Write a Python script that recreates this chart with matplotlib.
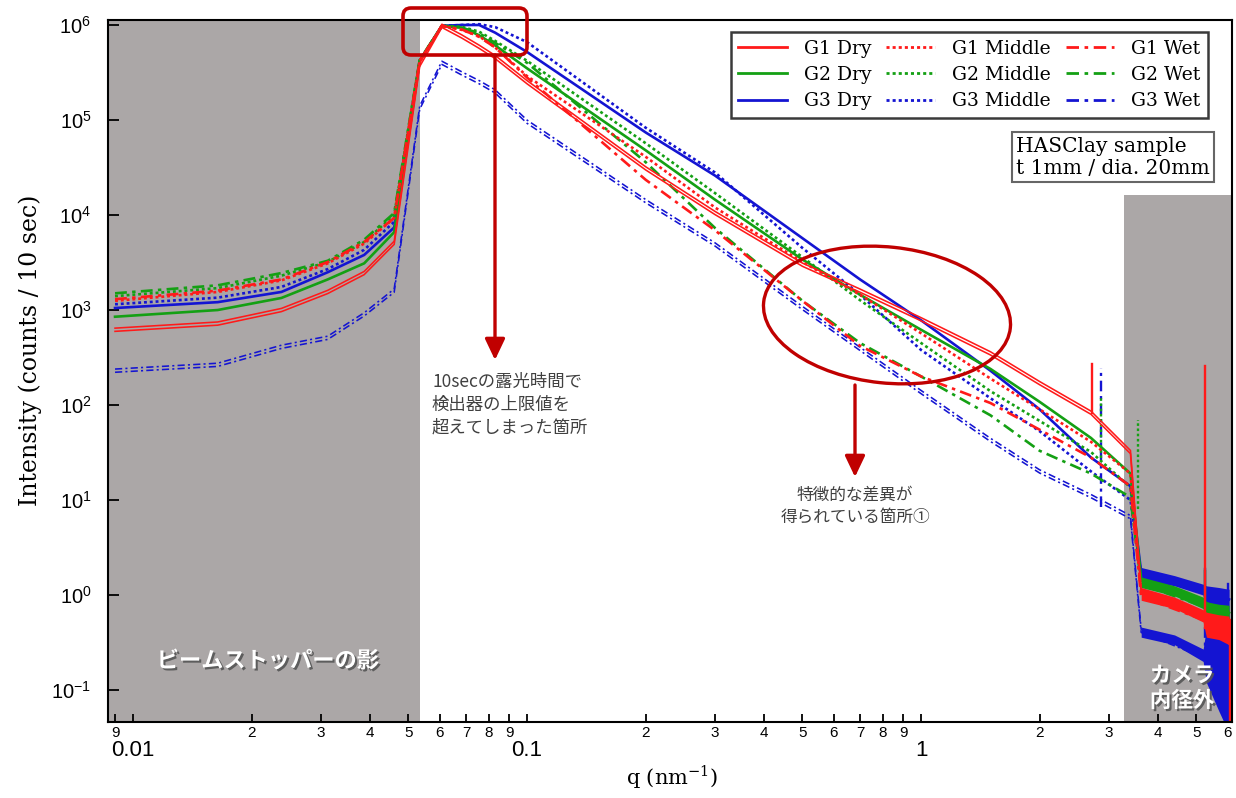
import numpy as np
import matplotlib
matplotlib.use("Agg")
import matplotlib.pyplot as plt
from matplotlib import ticker, patches, transforms
from matplotlib.lines import Line2D
import matplotlib.patheffects as pe

# ---------------- data ----------------
q = [0.0090, 0.0164, 0.0238, 0.0312, 0.0386, 0.0460, 0.0534, 0.0608, 0.0682,
     0.0756, 0.0830, 0.100, 0.200, 0.300, 0.500, 0.700, 1.00, 1.50, 2.00, 2.70, 3.40]

g1_dry = [620, 720, 1000, 1550, 2450, 5100, 3.8e5, 9.8e5, 7.6e5, 5.9e5, 4.6e5, 2.5e5,
          3.1e4, 1.05e4, 3.0e3, 1.6e3, 800, 350, 170, 83, 32]
g2_dry = [850, 1000, 1340, 2100, 3100, 6600, 4.2e5, 9.8e5, 9.4e5, 7.8e5, 6.1e5, 3.5e5,
          4.8e4, 1.45e4, 3.4e3, 1.45e3, 620, 240, 108, 45, 19]
g3_dry = [1050, 1210, 1550, 2500, 3800, 7400, 4.2e5, 9.8e5, 1.0e6, 1.0e6, 8.3e5, 5.2e5,
          7.4e4, 2.6e4, 5.7e3, 2.1e3, 780, 230, 90, 28, 14]
g1_mid = [1250, 1550, 2050, 3100, 5000, 9300, 4.2e5, 9.8e5, 8.9e5, 7.6e5, 5.8e5, 2.9e5,
          4.1e4, 1.2e4, 3.2e3, 1.45e3, 570, 190, 90, 41, 19]
g2_mid = [1400, 1700, 2300, 3200, 5200, 1.0e4, 4.3e5, 9.8e5, 9.6e5, 8.5e5, 6.8e5, 4.2e5,
          5.7e4, 1.7e4, 3.6e3, 1.27e3, 450, 140, 68, 32, 13.6]
g3_mid = [1150, 1350, 1750, 2700, 4300, 8500, 4.2e5, 9.8e5, 1.0e6, 1.02e6, 9.5e5, 6.6e5,
          8.3e4, 2.8e4, 4.5e3, 1.45e3, 380, 118, 53, 20, 10]
g1_wet = [1300, 1600, 2100, 3200, 5200, 9300, 4.2e5, 9.8e5, 9.0e5, 7.5e5, 5.8e5, 2.8e5,
          2.35e4, 6.9e3, 1.25e3, 420, 200, 105, 55, 28, 14]
g2_wet = [1500, 1820, 2450, 3300, 5500, 1.05e4, 4.3e5, 9.8e5, 9.4e5, 8.2e5, 6.5e5, 4.0e5,
          3.6e4, 7.3e3, 1.25e3, 450, 200, 78, 33, 19, 10.7]
g3_wet = [230, 265, 410, 510, 900, 1600, 1.35e5, 4.0e5, 3.1e5, 2.5e5, 2.0e5, 9.6e4,
          1.4e4, 4.9e3, 1.05e3, 390, 137, 43, 20, 11, 6.6]

# beyond the camera edge (q > 3.6)
q_tail = [3.62, 5.2, 6.05]
g1_dry_t = [1.1, 0.62, 0.5]
g1_mid_t = [1.02, 0.58, 0.46]
g1_wet_t = [0.96, 0.55, 0.42]
g2_dry_t = [1.45, 0.85, 0.65]
g2_mid_t = [1.38, 0.80, 0.60]
g2_wet_t = [1.30, 0.76, 0.56]
g3_dry_t = [1.75, 1.15, 0.90]
g3_mid_t = [1.65, 1.10, 0.85]
g3_wet_t = [0.42, 0.23, 0.08]

# noise envelopes in the tail
band_q = [3.62, 4.4, 5.2, 5.3, 5.7, 6.05]
red_lo = [0.88, 0.72, 0.52, 0.36, 0.34, 0.30]
red_hi = [1.20, 0.95, 0.70, 0.66, 0.62, 0.60]
green_lo = [1.20, 0.98, 0.72, 0.50, 0.48, 0.45]
green_hi = [1.55, 1.25, 0.95, 0.85, 0.80, 0.78]
blue_lo = [1.45, 1.25, 1.00, 0.60, 0.58, 0.55]
blue_hi = [1.95, 1.60, 1.30, 1.25, 1.20, 1.15]
bwet_lo = [0.36, 0.30, 0.20, 0.12, 0.06, 0.035]
bwet_hi = [0.46, 0.38, 0.27, 0.45, 0.38, 0.30]

# single-point spikes
spike_series = ["G1 Dry", "G3 Wet", "G2 Middle", "G2 Middle", "G1 Dry", "G2 Dry",
                "G3 Dry", "G3 Wet", "G3 Dry", "G1 Dry"]
spike_q = [2.72, 2.86, 2.86, 3.55, 5.25, 5.25, 5.25, 5.27, 6.02, 6.08]
spike_lo = [83, 8.4, 28, 8, 0.45, 0.7, 0.9, 0.2, 0.6, 0.03]
spike_hi = [270, 245, 118, 70, 260, 1.8, 1.9, 0.5, 1.3, 0.55]

names = ["G1 Dry", "G2 Dry", "G3 Dry", "G1 Middle", "G2 Middle", "G3 Middle",
         "G1 Wet", "G2 Wet", "G3 Wet"]
main_vals = [g1_dry, g2_dry, g3_dry, g1_mid, g2_mid, g3_mid, g1_wet, g2_wet, g3_wet]
tail_vals = [g1_dry_t, g2_dry_t, g3_dry_t, g1_mid_t, g2_mid_t, g3_mid_t,
             g1_wet_t, g2_wet_t, g3_wet_t]

x_major = [0.01, 0.1, 1]
x_minor = [0.009, 0.02, 0.03, 0.04, 0.05, 0.06, 0.07, 0.08, 0.09,
           0.2, 0.3, 0.4, 0.5, 0.6, 0.7, 0.8, 0.9, 2, 3, 4, 5, 6]
y_major = [0.1, 1, 10, 100, 1e3, 1e4, 1e5, 1e6]

# ---------------- styles ----------------
RED, GREEN, BLUE = "#ff1a1a", "#14a014", "#1414d2"
DARKRED = "#c00000"
GREY = "#aba7a7"
col = {"G1": RED, "G2": GREEN, "G3": BLUE}
ls = {"Dry": "-", "Middle": (0, (1.1, 1.1)), "Wet": (0, (4.5, 2.0, 1.3, 2.0))}
zo = {"G1": 6, "G2": 5, "G3": 4}
double = {"G1 Dry", "G3 Wet"}

W, H = 1236, 798
fig = plt.figure(figsize=(W / 100, H / 100), dpi=100)
fig.patch.set_facecolor("white")
ax = fig.add_axes([108 / W, 1 - 722 / H, (1232 - 108) / W, (722 - 20) / H])
ax.set_xscale("log")
ax.set_yscale("log")
ax.set_xlim(0.008638, 6.155)
ax.set_ylim(0.0461, 1.129e6)

# grey regions
ax.axvspan(0.008638, 0.05352, color=GREY, zorder=0, lw=0)
ax.add_patch(patches.Rectangle((3.27, 0.0461), 10, 1.63e4 - 0.0461, color=GREY,
                               zorder=0, lw=0))

# noise bands
ax.fill_between(band_q, blue_lo, blue_hi, color=BLUE, lw=0, zorder=4)
ax.fill_between(band_q, bwet_lo, bwet_hi, color=BLUE, lw=0, zorder=4)
ax.fill_between(band_q, green_lo, green_hi, color=GREEN, lw=0, zorder=5)
ax.fill_between(band_q, red_lo, red_hi, color=RED, lw=0, zorder=6)

off_up = transforms.offset_copy(ax.transData, fig=fig, x=0, y=1.6, units="dots")
off_dn = transforms.offset_copy(ax.transData, fig=fig, x=0, y=-1.6, units="dots")

for name, mv, tv in zip(names, main_vals, tail_vals):
    g, cond = name.split()
    xs = q + q_tail
    ys = mv + tv
    kw = dict(color=col[g], linestyle=ls[cond], zorder=zo[g], solid_joinstyle="round")
    if name in double:
        ax.plot(xs, ys, lw=1.15, transform=off_up, **kw)
        ax.plot(xs, ys, lw=1.15, transform=off_dn, **kw)
    else:
        ax.plot(xs, ys, lw=1.9, **kw)

for s, sq, lo, hi in zip(spike_series, spike_q, spike_lo, spike_hi):
    g, cond = s.split()
    ax.plot([sq, sq], [lo, hi], color=col[g], linestyle=ls[cond], lw=1.7, zorder=zo[g])

# ---------------- axes styling ----------------
for sp in ax.spines.values():
    sp.set_linewidth(1.5)
    sp.set_zorder(10)

ax.xaxis.set_major_locator(ticker.FixedLocator(x_major))
ax.xaxis.set_minor_locator(ticker.FixedLocator(x_minor))
ax.xaxis.set_major_formatter(ticker.FuncFormatter(lambda v, p: f"{v:g}"))


def minor_fmt(v, p):
    d = v / 10 ** np.floor(np.log10(v) + 1e-9)
    return f"{int(round(d))}"


ax.xaxis.set_minor_formatter(ticker.FuncFormatter(minor_fmt))
ax.yaxis.set_major_locator(ticker.FixedLocator(y_major))
ax.yaxis.set_minor_locator(ticker.NullLocator())
ax.yaxis.set_major_formatter(ticker.FuncFormatter(
    lambda v, p: r"$\mathregular{10^{%d}}$" % int(round(np.log10(v)))))

SANS = "Liberation Sans"
ax.tick_params(axis="x", which="major", direction="in", length=6, width=1.3,
               pad=13, labelsize=16, labelfontfamily=SANS)
ax.tick_params(axis="x", which="minor", direction="in", length=6, width=1.3,
               pad=3, labelsize=11, labelfontfamily=SANS)
ax.tick_params(axis="y", which="major", direction="in", length=8, width=1.3,
               pad=12, labelsize=14.5, labelfontfamily=SANS)

# axis labels
SERIF = "DejaVu Serif"
fig.text(30 / W, 1 - 350 / H, "Intensity (counts / 10 sec)", rotation=90,
         ha="center", va="center", family=SERIF, fontsize=17)
fig.text(672 / W, 1 - 777 / H, r"q (nm$^{\mathregular{-1}}$)", ha="center",
         va="center", family=SERIF, fontsize=15)

# legend
handles = []
for name in names:
    g, cond = name.split()
    handles.append(Line2D([], [], color=col[g], linestyle=ls[cond], lw=2.0))
leg = ax.legend(handles, names, ncol=3, loc="upper right",
                bbox_to_anchor=(1208 / W, 1 - 32 / H), bbox_transform=fig.transFigure,
                borderaxespad=0, fancybox=False, framealpha=1, edgecolor="#3a3a3a",
                prop={"family": SERIF, "size": 13.5}, handlelength=2.6,
                handletextpad=0.9, columnspacing=0.8, labelspacing=0.45, borderpad=0.4)
leg.get_frame().set_linewidth(1.8)
leg.set_zorder(20)

fig.text(1016 / W, 1 - 157 / H, "HASClay sample\nt 1mm / dia. 20mm", ha="left",
         va="center", family=SERIF, fontsize=14.5, linespacing=1.2, zorder=20,
         bbox=dict(boxstyle="square,pad=0.22", fc="white", ec="#666666", lw=1.5))

# ---------------- annotations ----------------
ident = transforms.IdentityTransform()
fig.add_artist(patches.FancyBboxPatch((403, H - 55), 124, 47,
                                      boxstyle="round,pad=0,rounding_size=8",
                                      transform=ident, fill=False, ec=DARKRED, lw=2.6))
fig.add_artist(patches.FancyArrowPatch((495, H - 55), (495, H - 360), transform=ident,
                                       arrowstyle="-|>,head_length=0.8,head_width=0.38",
                                       mutation_scale=16, lw=2.4, color=DARKRED,
                                       shrinkA=0, shrinkB=0))
fig.add_artist(patches.Ellipse((887, H - 315), 248, 136, angle=-6, transform=ident,
                               fill=False, ec=DARKRED, lw=2.4))
fig.add_artist(patches.FancyArrowPatch((855, H - 385), (855, H - 477), transform=ident,
                                       arrowstyle="-|>,head_length=0.8,head_width=0.38",
                                       mutation_scale=16, lw=2.4, color=DARKRED,
                                       shrinkA=0, shrinkB=0))

JP = ["Noto Sans CJK JP", "DejaVu Sans"]
fig.text(432 / W, 1 - 405 / H, "10secの露光時間で\n検出器の上限値を\n超えてしまった箇所",
         ha="left", va="center", family=JP, fontsize=12.5, color="#404040",
         linespacing=1.35)
fig.text(855 / W, 1 - 506 / H, "特徴的な差異が\n得られている箇所①", ha="center",
         va="center", family=JP, fontsize=12, color="#404040", linespacing=1.4)

shadow = [pe.withSimplePatchShadow(offset=(1.5, -1.5), shadow_rgbFace="#555555", alpha=0.9)]
fig.text(268 / W, 1 - 661 / H, "ビームストッパーの影", ha="center", va="center",
         family=JP, fontsize=16, fontweight="bold", color="white", path_effects=shadow)
fig.text(1182 / W, 1 - 688 / H, "カメラ\n内径外", ha="center", va="center",
         family=JP, fontsize=15.5, fontweight="bold", color="white", linespacing=1.25,
         path_effects=shadow)

fig.savefig("out.png", dpi=100)
